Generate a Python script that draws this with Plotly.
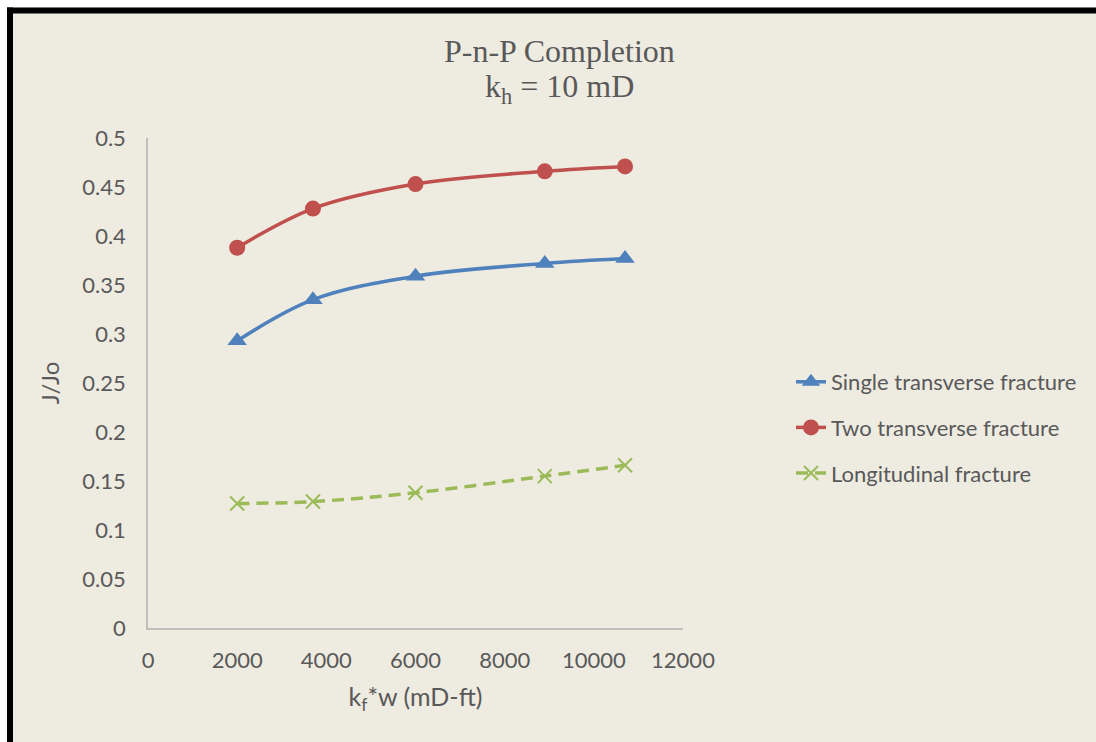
import plotly.graph_objects as go

# Fracture conductivity (mD-ft) and productivity ratio J/Jo
kfw = [2000, 3700, 6000, 8900, 10700]
single_transverse = [0.293, 0.335, 0.359, 0.372, 0.377]
two_transverse = [0.388, 0.428, 0.453, 0.466, 0.471]
longitudinal = [0.127, 0.129, 0.138, 0.155, 0.166]

x_ticks = [0, 2000, 4000, 6000, 8000, 10000, 12000]
x_tick_text = ["0", "2000", "4000", "6000", "8000", "10000", "12000"]
y_ticks = [0, 0.05, 0.1, 0.15, 0.2, 0.25, 0.3, 0.35, 0.4, 0.45, 0.5]
y_tick_text = ["0", "0.05", "0.1", "0.15", "0.2", "0.25", "0.3", "0.35", "0.4", "0.45", "0.5"]

BG = "#EEEBE1"
TXT = "#595959"
SANS = "Lato, 'Open Sans', sans-serif"
SERIF = "'Liberation Serif', 'Times New Roman', serif"

W, H = 1096, 742
ML, MR, MT, MB = 148, 413, 138, 114
PW, PH = W - ML - MR, H - MT - MB


def px_x(p):
    return (p - ML) / PW


def px_y(p):
    return (H - MB - p) / PH


fig = go.Figure()
fig.add_trace(go.Scatter(
    x=kfw, y=single_transverse, name="Single transverse fracture",
    mode="lines+markers", line=dict(color="#4F81BD", width=3.5, shape="spline"),
    marker=dict(symbol="triangle-up", size=17, color="#4F81BD"),
    legendgroup="a"))
fig.add_trace(go.Scatter(
    x=kfw, y=two_transverse, name="Two transverse fracture",
    mode="lines+markers", line=dict(color="#C0504D", width=3.5, shape="spline"),
    marker=dict(symbol="circle", size=16, color="#C0504D"),
    legendgroup="b"))
fig.add_trace(go.Scatter(
    x=kfw, y=longitudinal, name="Longitudinal fracture",
    mode="lines+markers",
    line=dict(color="#9BBB59", width=3.5, shape="spline", dash="12px,7px"),
    marker=dict(symbol="x-thin", size=14, color="#9BBB59",
                line=dict(color="#9BBB59", width=2)),
    legendgroup="c"))

fig.update_layout(
    width=W, height=H,
    margin=dict(l=ML, r=MR, t=MT, b=MB),
    paper_bgcolor=BG,
    plot_bgcolor=BG,
    font=dict(family=SANS, size=22, color=TXT),
    showlegend=True,
    legend=dict(x=px_x(791), y=px_y(361), xanchor="left", yanchor="top",
                bgcolor="rgba(0,0,0,0)", tracegroupgap=14,
                font=dict(family=SANS, size=22, color=TXT)),
    xaxis=dict(range=[0, 12000], tickvals=x_ticks, ticktext=x_tick_text, ticks="",
               showgrid=False, zeroline=False, showline=True, linecolor="#BFBFBF",
               linewidth=1.5, tickfont=dict(size=22), ticklabelstandoff=12,
               title=dict(text="k<sub>f</sub>*w (mD-ft)",
                          font=dict(family=SANS, size=25, color=TXT), standoff=16)),
    yaxis=dict(range=[0, 0.5], tickvals=y_ticks, ticktext=y_tick_text, ticks="",
               showgrid=False, zeroline=False, showline=True, linecolor="#BFBFBF",
               linewidth=1.5, tickfont=dict(size=22), ticklabelstandoff=16,
               title=dict(text="J/Jo", font=dict(family=SANS, size=24, color=TXT),
                          standoff=16)),
    annotations=[
        dict(text="P-n-P Completion", xref="paper", yref="paper",
             x=px_x(559), y=px_y(51), xanchor="center", yanchor="middle",
             showarrow=False, font=dict(family=SERIF, size=32, color=TXT)),
        dict(text="k<sub>h</sub> = 10 mD", xref="paper", yref="paper",
             x=px_x(559), y=px_y(89), xanchor="center", yanchor="middle",
             showarrow=False, font=dict(family=SERIF, size=32, color=TXT)),
    ],
    shapes=[
        # white strips outside the black frame
        dict(type="rect", xref="paper", yref="paper", layer="below",
             x0=px_x(0), x1=px_x(7), y0=px_y(742), y1=px_y(0),
             line=dict(width=0), fillcolor="white"),
        dict(type="rect", xref="paper", yref="paper", layer="below",
             x0=px_x(0), x1=px_x(1096), y0=px_y(7.5), y1=px_y(0),
             line=dict(width=0), fillcolor="white"),
        # black frame (left and top edges)
        dict(type="rect", xref="paper", yref="paper", layer="below",
             x0=px_x(7), x1=px_x(13), y0=px_y(742), y1=px_y(7.5),
             line=dict(width=0), fillcolor="black"),
        dict(type="rect", xref="paper", yref="paper", layer="below",
             x0=px_x(7), x1=px_x(1096), y0=px_y(13.5), y1=px_y(7.5),
             line=dict(width=0), fillcolor="black"),
    ],
)

fig.write_html("out.html")
